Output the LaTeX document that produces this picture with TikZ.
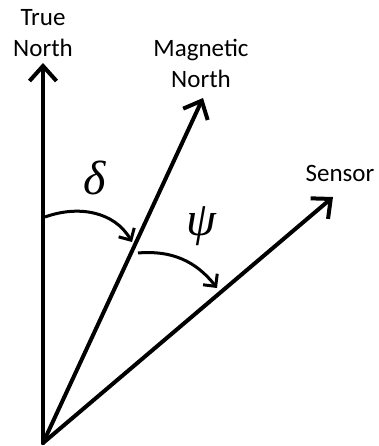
\documentclass[tikz,border=0pt]{standalone}
\usepackage{fontspec}
\setmainfont{Carlito}
\newfontfamily\grkfont{Liberation Serif}
\usetikzlibrary{arrows.meta}
\tikzset{
  vec/.style={line width=4pt, line cap=round, -{Straight Barb[length=15pt,width=27pt]}},
  anglearc/.style={line width=3pt, -{Straight Barb[length=9pt,width=18pt]}},
  lbl/.style={font=\fontsize{25}{31}\selectfont, inner sep=0pt, align=center},
  greek/.style={font=\grkfont\itshape\fontsize{48}{48}\selectfont, inner sep=0pt}
}
\begin{document}
\begin{tikzpicture}[x=1pt,y=-1pt]
  \useasboundingbox (0,0) rectangle (378,446);
  \coordinate (O) at (43,443);
  \coordinate (tn) at (43,63);
  \coordinate (mn) at (203,98);
  \coordinate (sn) at (333,197);
  \draw[vec] (O) -- (tn);
  \draw[vec] (O) -- (mn);
  \draw[vec] (O) -- (sn);
  \node[lbl, anchor=south] (tnl) at (43,57) {True\\North};
  \node[lbl, anchor=south] (mnl) at (201,88) {Magnetic\\North};
  \node[lbl, anchor=base] (snl) at (340,182) {Sensor};
  \coordinate (d1) at (45,217);
  \coordinate (d2) at (132,242);
  \coordinate (p1) at (138,253);
  \coordinate (p2) at (217,288);
  \draw[anglearc] (d1) to[out=20,in=120] (d2);
  \draw[anglearc] (p1) to[out=5,in=128] (p2);
  \node[greek] (delta) at (95,178) {δ};
  \node[greek] (psi) at (201,226) {ψ};
\end{tikzpicture}
\end{document}
